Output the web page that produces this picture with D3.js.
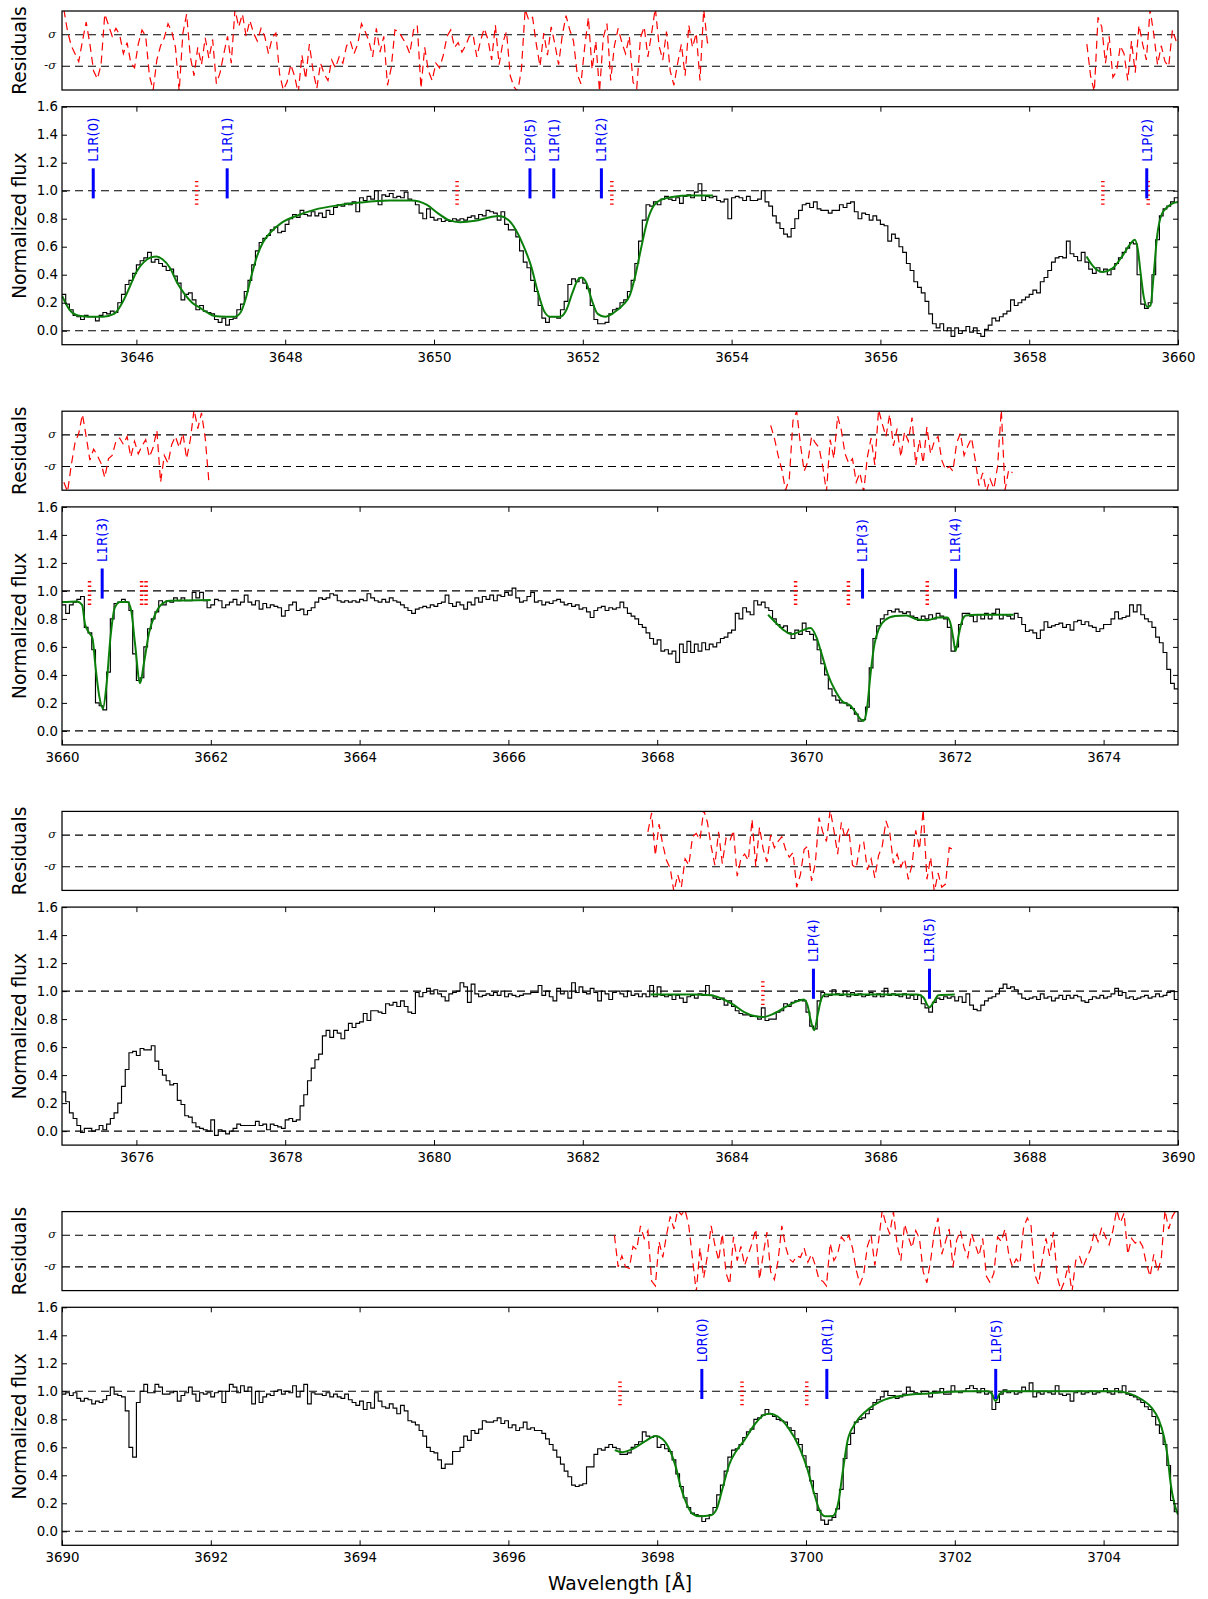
<!DOCTYPE html>
<html><head><meta charset="utf-8">
<script src="https://cdn.jsdelivr.net/npm/d3@7"></script>
<style>body{margin:0;background:#fff} svg{display:block}</style>
</head><body><svg id="c" width="1208" height="1599"></svg>
<script>
// ---------------- DATA ----------------
const binWidth = 0.05;               // Å per spectral pixel
const ranges = [[3645,3660],[3660,3675],[3675,3690],[3690,3705]];
const fluxTicks = [0,0.2,0.4,0.6,0.8,1.0,1.2,1.4,1.6];

const flux1 = [
0.26,0.19,0.15,0.11,0.10,0.08,0.11,0.10,0.10,0.07,
0.11,0.13,0.12,0.14,0.13,0.20,0.26,0.33,0.36,0.41,
0.47,0.50,0.52,0.56,0.49,0.51,0.48,0.46,0.43,0.44,
0.39,0.34,0.22,0.26,0.27,0.22,0.15,0.18,0.14,0.13,
0.12,0.08,0.06,0.09,0.04,0.08,0.09,0.15,0.19,0.28,
0.36,0.47,0.57,0.63,0.66,0.68,0.72,0.74,0.70,0.71,
0.76,0.80,0.83,0.81,0.86,0.83,0.82,0.85,0.82,0.84,
0.81,0.86,0.83,0.88,0.90,0.89,0.91,0.90,0.92,0.85,
0.95,0.93,0.96,0.94,1.00,0.90,0.97,0.96,0.98,0.95,
0.96,0.95,0.99,0.94,0.93,0.90,0.84,0.80,0.87,0.81,
0.79,0.80,0.78,0.79,0.78,0.80,0.79,0.80,0.79,0.81,
0.82,0.80,0.83,0.82,0.86,0.85,0.84,0.79,0.85,0.76,
0.72,0.72,0.67,0.57,0.49,0.45,0.36,0.28,0.18,0.09,
0.06,0.10,0.10,0.09,0.15,0.21,0.33,0.37,0.35,0.38,
0.34,0.30,0.18,0.08,0.05,0.05,0.06,0.12,0.15,0.16,
0.20,0.22,0.28,0.36,0.48,0.64,0.79,0.90,0.89,0.92,
0.90,0.94,0.96,0.94,0.93,0.95,0.91,0.96,0.97,0.95,
0.99,1.05,0.93,0.96,0.95,0.96,0.93,0.92,0.94,0.80,
0.95,0.96,0.95,0.93,0.96,0.93,0.93,0.94,1.00,0.92,
0.89,0.82,0.77,0.73,0.69,0.67,0.73,0.80,0.86,0.90,
0.91,0.88,0.92,0.87,0.86,0.86,0.84,0.86,0.86,0.90,
0.88,0.91,0.92,0.85,0.80,0.84,0.83,0.79,0.82,0.79,
0.76,0.75,0.64,0.69,0.66,0.60,0.56,0.48,0.43,0.35,
0.31,0.27,0.21,0.12,0.05,0.02,0.05,0.00,0.02,-0.04,
0.02,-0.02,0.00,0.03,-0.01,0.02,-0.02,-0.04,0.01,0.04,
0.09,0.07,0.10,0.12,0.14,0.22,0.18,0.20,0.22,0.24,
0.26,0.29,0.27,0.35,0.38,0.43,0.49,0.52,0.53,0.52,
0.64,0.55,0.53,0.50,0.56,0.49,0.44,0.41,0.45,0.42,
0.44,0.40,0.44,0.48,0.52,0.56,0.59,0.63,0.62,0.40,
0.19,0.16,0.20,0.40,0.65,0.82,0.87,0.89,0.92,0.95];

const flux2 = [
0.90,0.84,0.90,0.92,0.94,0.96,0.74,0.70,0.58,0.20,
0.18,0.15,0.42,0.80,0.91,0.92,0.94,0.92,0.86,0.55,
0.36,0.38,0.60,0.73,0.80,0.85,0.93,0.90,0.93,0.92,
0.95,0.93,0.95,0.93,0.93,0.99,0.95,0.99,0.93,0.88,
0.90,0.94,0.93,0.88,0.90,0.92,0.94,0.90,0.92,0.97,
0.92,0.90,0.93,0.87,0.91,0.88,0.90,0.89,0.88,0.82,
0.86,0.90,0.92,0.86,0.87,0.83,0.86,0.88,0.92,0.95,
0.94,0.95,0.98,0.97,0.93,0.92,0.93,0.92,0.93,0.92,
0.94,0.93,0.98,0.95,0.93,0.92,0.94,0.92,0.95,0.93,
0.92,0.90,0.88,0.86,0.84,0.87,0.88,0.89,0.88,0.90,
0.89,0.91,0.92,0.97,0.91,0.89,0.92,0.90,0.87,0.92,
0.90,0.95,0.92,0.96,0.94,0.97,0.93,0.97,0.96,0.99,
0.97,1.02,0.95,0.92,0.93,0.96,0.99,0.92,0.93,0.90,
0.92,0.91,0.93,0.94,0.92,0.90,0.91,0.89,0.90,0.87,
0.88,0.85,0.81,0.86,0.88,0.89,0.86,0.88,0.87,0.88,
0.92,0.88,0.84,0.82,0.80,0.76,0.74,0.70,0.66,0.62,
0.65,0.57,0.58,0.55,0.57,0.49,0.62,0.56,0.64,0.56,
0.62,0.57,0.63,0.58,0.62,0.60,0.63,0.66,0.67,0.70,
0.72,0.84,0.80,0.88,0.85,0.83,0.93,0.90,0.92,0.88,
0.86,0.80,0.76,0.74,0.75,0.70,0.66,0.72,0.69,0.77,
0.71,0.69,0.65,0.58,0.48,0.40,0.30,0.25,0.22,0.20,
0.20,0.18,0.16,0.12,0.07,0.08,0.17,0.45,0.66,0.75,
0.80,0.83,0.86,0.85,0.87,0.85,0.84,0.85,0.82,0.81,
0.79,0.82,0.80,0.83,0.80,0.84,0.82,0.80,0.74,0.57,
0.60,0.76,0.84,0.84,0.82,0.78,0.83,0.80,0.84,0.80,
0.84,0.87,0.80,0.83,0.82,0.80,0.84,0.81,0.76,0.71,
0.72,0.70,0.66,0.72,0.78,0.74,0.75,0.76,0.77,0.74,
0.76,0.72,0.78,0.79,0.76,0.78,0.75,0.74,0.71,0.73,
0.76,0.76,0.80,0.85,0.80,0.81,0.82,0.90,0.85,0.90,
0.83,0.80,0.78,0.74,0.67,0.63,0.56,0.44,0.34,0.30];

const flux3 = [
0.28,0.21,0.13,0.09,0.04,-0.01,0.02,0.02,0.00,0.01,
0.04,0.01,0.05,0.09,0.13,0.20,0.32,0.44,0.56,0.57,
0.54,0.59,0.58,0.58,0.61,0.50,0.44,0.40,0.36,0.33,
0.34,0.22,0.19,0.11,0.10,0.06,0.03,0.02,0.01,0.00,
0.08,-0.03,0.01,0.00,-0.02,0.00,0.02,0.05,0.04,0.04,
0.04,0.04,0.07,0.04,0.05,0.01,0.05,0.04,0.03,0.02,
0.08,0.09,0.07,0.08,0.18,0.26,0.36,0.45,0.51,0.55,
0.68,0.72,0.67,0.72,0.70,0.66,0.72,0.77,0.74,0.77,
0.78,0.84,0.79,0.86,0.86,0.85,0.84,0.91,0.90,0.92,
0.89,0.93,0.89,0.85,0.84,0.99,0.96,0.99,1.02,0.98,
1.01,0.98,0.96,0.93,0.98,0.99,1.00,1.06,1.03,0.92,
1.05,0.98,0.96,0.97,0.98,0.97,0.99,0.97,1.00,0.96,
0.98,0.97,0.96,0.97,0.98,0.98,0.99,0.99,1.04,0.97,
1.00,0.96,0.93,1.02,0.98,1.00,0.95,1.06,0.99,1.03,
0.99,0.98,1.02,0.99,0.93,1.00,0.98,0.94,0.99,1.00,
0.98,0.96,1.00,0.97,0.98,0.96,0.98,0.96,1.04,0.96,
1.03,0.97,0.96,0.97,0.94,0.97,0.95,0.92,0.96,0.97,
0.95,0.98,0.97,1.04,0.97,0.95,0.94,0.95,0.90,0.93,
0.89,0.86,0.84,0.83,0.83,0.82,0.82,0.80,0.88,0.79,
0.80,0.80,0.85,0.86,0.91,0.89,0.92,0.93,0.94,0.93,
0.85,0.75,0.73,0.93,0.99,0.96,0.97,1.01,0.98,0.97,
1.00,0.96,0.99,0.97,0.98,0.96,0.97,0.99,0.96,0.98,
0.96,1.02,0.97,0.98,0.97,0.96,0.98,0.95,0.97,0.94,
0.97,0.91,0.88,0.85,0.92,0.95,0.94,0.96,0.95,0.96,
0.93,0.96,0.92,0.98,0.90,0.87,0.86,0.90,0.93,0.95,
0.96,0.98,1.02,1.05,1.02,1.03,1.01,0.98,0.95,0.94,
0.95,0.96,0.94,0.98,0.95,0.96,0.93,0.95,0.97,0.94,
0.97,0.95,0.97,0.96,0.93,0.92,0.94,0.96,0.95,0.97,
0.95,0.96,0.98,1.02,0.97,0.99,0.95,0.96,0.94,0.95,
0.96,0.97,0.95,0.96,0.98,0.96,0.97,0.99,1.00,0.94];

const flux4 = [
0.98,0.99,0.97,0.99,0.95,0.93,0.95,0.94,0.91,0.93,
0.92,0.94,0.97,1.03,0.98,0.97,0.96,0.86,0.60,0.53,
0.92,1.00,1.05,0.99,0.99,1.05,1.03,0.98,0.98,0.99,
1.00,0.93,0.97,0.99,1.03,0.98,0.93,0.99,0.98,0.99,
0.96,0.99,1.00,0.92,1.00,1.05,1.03,0.99,1.04,1.00,
1.03,0.91,1.00,0.92,0.96,0.98,0.97,1.00,1.01,0.98,
1.00,0.99,1.04,0.96,1.00,1.05,0.91,0.99,0.98,0.98,
0.97,0.99,0.96,0.98,0.96,0.95,0.98,0.94,0.92,0.90,
0.93,0.87,0.92,0.88,0.99,0.93,0.89,0.88,0.91,0.88,
0.84,0.90,0.86,0.79,0.78,0.76,0.72,0.68,0.60,0.57,
0.56,0.51,0.45,0.48,0.48,0.57,0.57,0.60,0.68,0.65,
0.72,0.70,0.73,0.79,0.78,0.78,0.79,0.81,0.77,0.79,
0.74,0.76,0.72,0.74,0.78,0.73,0.74,0.72,0.72,0.70,
0.66,0.62,0.58,0.53,0.48,0.43,0.39,0.33,0.32,0.33,
0.34,0.46,0.46,0.55,0.59,0.58,0.60,0.62,0.60,0.59,
0.55,0.55,0.56,0.60,0.62,0.64,0.71,0.68,0.67,0.68,
0.60,0.62,0.59,0.57,0.51,0.41,0.32,0.24,0.17,0.13,
0.12,0.11,0.07,0.09,0.12,0.17,0.26,0.33,0.43,0.53,
0.58,0.59,0.62,0.67,0.71,0.73,0.80,0.81,0.83,0.87,
0.84,0.82,0.80,0.79,0.78,0.74,0.72,0.66,0.62,0.54,
0.46,0.36,0.27,0.15,0.08,0.05,0.08,0.10,0.16,0.30,
0.52,0.62,0.70,0.78,0.80,0.81,0.84,0.87,0.92,0.94,
0.96,1.00,0.97,0.97,0.95,0.96,0.98,1.03,1.00,0.99,
0.98,1.00,1.00,0.96,1.00,0.99,1.02,0.98,0.98,1.04,
1.00,0.99,1.00,1.02,1.04,1.02,0.99,1.02,0.98,0.99,
0.87,0.92,0.98,1.01,0.99,1.00,0.98,0.99,1.03,1.00,
1.06,0.96,0.99,0.98,1.00,0.99,0.98,1.04,0.98,0.97,
0.98,0.93,0.99,1.00,0.98,0.99,1.00,0.98,0.99,1.00,
1.02,0.99,0.98,1.02,0.99,1.04,0.98,0.97,0.96,0.94,
0.92,0.89,0.87,0.82,0.76,0.70,0.62,0.47,0.22,0.14];

// fitted model (wavelength, flux)
const model1a = [[3645.0,0.25],[3645.1,0.15],[3645.2,0.11],[3645.35,0.10],[3645.55,0.10],[3645.7,0.12],[3645.8,0.19],[3645.9,0.30],[3646.0,0.42],[3646.1,0.49],[3646.2,0.525],[3646.27,0.53],[3646.35,0.51],[3646.45,0.45],[3646.55,0.34],[3646.65,0.26],[3646.75,0.20],[3646.85,0.165],[3646.95,0.13],[3647.05,0.105],[3647.2,0.10],[3647.32,0.10],[3647.4,0.13],[3647.47,0.23],[3647.55,0.40],[3647.62,0.53],[3647.7,0.63],[3647.8,0.70],[3647.95,0.77],[3648.2,0.83],[3648.4,0.865],[3648.7,0.895],[3649.0,0.915],[3649.4,0.93],[3649.7,0.93],[3649.9,0.90],[3650.05,0.84],[3650.2,0.79],[3650.35,0.775],[3650.55,0.785],[3650.75,0.81],[3650.87,0.82],[3651.0,0.79],[3651.1,0.72],[3651.2,0.61],[3651.3,0.47],[3651.4,0.27],[3651.48,0.14],[3651.56,0.10],[3651.7,0.10],[3651.78,0.15],[3651.86,0.27],[3651.93,0.36],[3651.98,0.38],[3652.05,0.34],[3652.12,0.22],[3652.2,0.12],[3652.3,0.10],[3652.42,0.13],[3652.55,0.19],[3652.63,0.25],[3652.7,0.38],[3652.78,0.58],[3652.86,0.77],[3652.95,0.89],[3653.05,0.935],[3653.2,0.955],[3653.45,0.965],[3653.75,0.965]];
const model1b = [[3658.77,0.53],[3658.86,0.46],[3658.99,0.42],[3659.12,0.445],[3659.26,0.54],[3659.36,0.62],[3659.42,0.65],[3659.46,0.58],[3659.5,0.40],[3659.54,0.24],[3659.59,0.17],[3659.63,0.18],[3659.67,0.38],[3659.72,0.68],[3659.78,0.83],[3659.85,0.88],[3659.93,0.91],[3660.0,0.92]];
const model2a = [[3660.0,0.92],[3660.2,0.925],[3660.27,0.90],[3660.31,0.76],[3660.36,0.705],[3660.41,0.66],[3660.45,0.46],[3660.5,0.25],[3660.55,0.16],[3660.6,0.34],[3660.65,0.66],[3660.71,0.88],[3660.78,0.92],[3660.88,0.92],[3660.93,0.86],[3660.98,0.63],[3661.05,0.34],[3661.1,0.48],[3661.17,0.70],[3661.25,0.83],[3661.33,0.90],[3661.45,0.93],[3662.0,0.935]];
const model2b = [[3669.49,0.83],[3669.6,0.77],[3669.7,0.72],[3669.81,0.69],[3669.96,0.72],[3670.06,0.735],[3670.14,0.67],[3670.21,0.55],[3670.29,0.41],[3670.39,0.29],[3670.49,0.21],[3670.6,0.18],[3670.67,0.13],[3670.73,0.085],[3670.77,0.07],[3670.82,0.16],[3670.87,0.42],[3670.92,0.62],[3670.98,0.73],[3671.06,0.79],[3671.2,0.82],[3671.35,0.825],[3671.5,0.795],[3671.63,0.79],[3671.78,0.81],[3671.9,0.81],[3671.95,0.75],[3671.98,0.66],[3672.01,0.57],[3672.05,0.68],[3672.1,0.79],[3672.15,0.825],[3672.3,0.83],[3672.79,0.83]];
const model3 = [[3682.91,0.975],[3683.5,0.975],[3683.72,0.97],[3683.87,0.945],[3684.02,0.905],[3684.17,0.85],[3684.32,0.82],[3684.42,0.815],[3684.57,0.84],[3684.72,0.885],[3684.87,0.925],[3684.97,0.94],[3685.02,0.90],[3685.06,0.80],[3685.11,0.72],[3685.16,0.84],[3685.21,0.95],[3685.26,0.975],[3685.6,0.975],[3686.5,0.975],[3686.58,0.955],[3686.63,0.90],[3686.66,0.885],[3686.72,0.925],[3686.78,0.97],[3687.0,0.975]];
const model4 = [[3697.43,0.58],[3697.53,0.565],[3697.68,0.59],[3697.83,0.64],[3697.98,0.68],[3698.07,0.66],[3698.17,0.58],[3698.25,0.46],[3698.32,0.31],[3698.4,0.19],[3698.47,0.126],[3698.57,0.107],[3698.72,0.114],[3698.8,0.16],[3698.87,0.29],[3698.97,0.48],[3699.07,0.58],[3699.17,0.65],[3699.32,0.77],[3699.45,0.835],[3699.52,0.84],[3699.62,0.82],[3699.76,0.74],[3699.91,0.60],[3700.01,0.46],[3700.11,0.27],[3700.19,0.14],[3700.26,0.107],[3700.36,0.11],[3700.44,0.22],[3700.49,0.41],[3700.56,0.65],[3700.66,0.77],[3700.81,0.86],[3701.01,0.93],[3701.31,0.97],[3701.65,0.985],[3702.15,1.0],[3702.45,1.0],[3702.5,0.98],[3702.55,0.93],[3702.6,0.98],[3702.67,1.0],[3703.4,1.0],[3704.16,1.0],[3704.34,0.985],[3704.52,0.94],[3704.65,0.88],[3704.74,0.80],[3704.81,0.68],[3704.86,0.535],[3704.9,0.345],[3704.95,0.20],[3705.0,0.12]];

// residuals in units of sigma, sampled on the spectral pixels
const resid1aStart = 3645.025;
const resid1a = [
2.6,1.2,0.3,-0.2,-0.7,0.6,1.8,0.4,-1.3,-1.8,
-0.9,2.3,1.6,0.9,1.4,1.0,-0.2,0.5,-0.8,-1.1,
0.4,1.3,0.9,-1.6,-2.5,-0.6,0.3,0.8,1.7,1.2,
0.2,-2.6,1.1,2.3,-0.4,-1.6,0.2,-0.9,0.8,-0.5,
0.7,-2.1,-1.4,-0.2,0.9,-0.8,2.6,1.5,2.3,0.9,
1.9,1.1,0.6,1.4,0.9,-0.2,0.8,1.1,-1.5,-2.5,
-2.0,-0.9,-1.6,-2.7,-0.3,-1.8,0.4,-1.3,-2.4,-0.8,
-1.5,-1.9,-0.6,-1.1,-0.4,-0.8,0.3,0.6,-0.2,0.4,
1.7,1.2,0.6,-0.4,1.4,-0.1,0.9,-2.2,-1.1,1.3,
1.2,0.8,0.4,-0.2,1.3,1.6,-2.4,0.2,-1.3,-1.9,
-0.8,-1.1,-0.3,0.9,1.3,0.2,0.5,-0.1,0.3,0.9,
1.0,-0.4,0.6,1.4,0.7,-0.6,1.6,-0.9,0.5,1.2,
-1.6,-2.3,-2.6,-1.2,2.6,1.9,2.1,0.4,-1.0,1.1,
-0.3,1.5,0.4,-0.9,1.0,2.2,1.3,0.6,-1.5,-2.1,
0.2,2.1,-1.2,0.6,-2.6,0.8,1.7,-1.9,0.3,1.4,
0.5,-0.2,0.9,-2.0,-2.4,0.8,1.5,-0.4,1.1,2.7,
0.3,-0.6,1.2,-1.3,-2.2,-0.8,0.4,-1.6,1.6,0.2,
1.1,-1.9,2.6,0.5,0.3];
const resid1bStart = 3658.775;
const resid1b = [
0.4,-1.6,-2.6,2.1,1.5,-0.8,0.9,-1.7,-1.3,0.3,
-0.2,-1.9,0.6,-1.4,1.6,0.4,-0.6,2.6,1.0,-0.9,
0.3,-0.7,-1.0,1.3,0.6];
const resid2aStart = 3660.025;
const resid2a = [
-2.0,-2.6,-0.9,0.5,1.1,2.3,0.9,-0.6,0.1,-0.3,
-0.8,-1.7,-0.5,-0.3,0.6,0.8,0.4,0.9,-0.4,0.6,
-0.2,0.3,0.7,-0.4,0.2,1.3,-2.0,-0.3,-0.8,0.4,
0.9,0.2,1.1,-0.5,0.7,2.6,1.4,2.4,0.8,-2.0];
const resid2bStart = 3669.525;
const resid2b = [
1.6,0.8,-0.3,-1.2,-2.5,-1.8,1.9,2.5,0.4,-1.3,
-0.7,0.9,0.5,0.2,-1.0,-2.6,0.7,-0.5,2.2,1.3,
-0.2,-0.8,-0.5,-2.0,-1.4,-2.6,-0.4,0.8,-0.9,2.6,
1.7,0.9,2.3,0.3,1.4,-0.4,1.2,0.6,2.1,-0.9,
0.7,-0.8,1.5,-0.2,0.6,0.9,-0.6,-1.2,-1.0,-1.3,
0.5,1.1,-0.3,0.3,0.8,-0.6,-2.2,-1.4,-2.6,-1.8,
-2.4,-1.0,2.6,-2.5,-1.2,-1.4];
const resid3Start = 3682.875;
const resid3 = [
1.2,2.4,-0.3,
1.7,0.4,-0.6,-1.1,-2.6,-1.5,-2.3,-0.5,-0.9,0.9,
1.1,0.7,2.6,1.8,0.3,-0.9,1.2,-0.8,0.8,0.6,
1.3,-1.6,-0.5,-0.2,-0.6,2.0,-1.0,1.5,0.1,-0.7,
1.0,0.2,0.6,0.9,0.1,-0.4,-0.1,-2.3,-1.5,0.1,
0.3,-1.9,-0.8,2.1,1.2,0.6,2.6,1.3,-0.2,1.8,
0.8,1.4,-0.9,-1.1,0.4,0.6,-1.2,-0.5,-1.7,-0.3,
0.3,1.9,1.2,-0.8,-0.2,-1.0,-0.5,-1.8,-0.9,1.3,
0.1,2.6,-1.8,-0.4,-2.6,-1.4,-2.3,-2.1,0.2,0.1];
const resid4Start = 3697.425;
const resid4 = [
1.0,-1.0,
-0.3,-1.0,-1.1,0.3,0.1,1.6,0.8,1.3,-1.9,-2.2,
0.6,-0.4,1.0,2.2,1.4,2.6,2.3,2.6,1.6,-0.5,
-2.6,0.2,-1.7,-0.3,1.6,0.4,-0.6,1.1,-1.4,-2.1,
0.9,-0.6,0.3,-0.9,-0.2,0.5,1.4,-1.8,-0.2,1.2,
-1.3,-1.8,-0.6,1.6,0.3,-0.5,-0.7,-0.3,-0.4,0.2,
-0.7,-0.2,-0.9,-1.8,-1.9,-2.2,0.5,-0.6,-0.2,0.9,
0.6,1.0,0.2,-1.2,-2.1,-1.5,0.3,1.0,-0.9,0.6,
2.6,1.7,1.1,2.5,0.4,-0.6,1.7,0.9,0.2,1.3,
0.8,-1.3,-2.0,-0.6,1.2,2.1,-0.2,0.6,1.4,-1.0,
0.7,1.3,0.2,-0.4,1.1,0.4,-0.3,0.8,-1.6,-2.0,
-1.4,0.9,0.6,1.4,-0.2,-1.0,-0.5,-0.8,1.5,2.1,
1.6,-1.5,-2.1,-0.6,0.8,-0.3,1.2,-1.6,-2.5,-1.9,
-0.9,-2.6,-0.6,-0.3,-1.0,-0.4,0.1,1.2,0.6,1.5,
0.9,0.4,1.3,2.6,1.8,2.4,-0.2,0.8,0.5,0.7,
0.3,-0.8,-1.6,-0.2,-1.3,-0.5,2.6,1.4,2.2,2.6];

// line identifications
const blue1 = [[3645.42,"L1R(0)"],[3647.22,"L1R(1)"],[3651.29,"L2P(5)"],[3651.61,"L1P(1)"],[3652.25,"L1R(2)"],[3659.58,"L1P(2)"]];
const red1 = [3646.81,3650.31,3652.39,3658.99,3659.60];
const blue2 = [[3660.54,"L1R(3)"],[3670.76,"L1P(3)"],[3672.01,"L1R(4)"]];
const red2 = [3660.37,3661.07,3661.13,3669.86,3670.57,3671.63];
const blue3 = [[3685.10,"L1P(4)"],[3686.66,"L1R(5)"]];
const red3 = [3684.42];
const blue4 = [[3698.60,"L0R(0)"],[3700.28,"L0R(1)"],[3702.55,"L1P(5)"]];
const red4 = [3697.50,3699.14,3700.01];

const panels = [
  {flux: flux1, models: [model1a, model1b], resid: [[resid1aStart, resid1a],[resid1bStart, resid1b]], blue: blue1, red: red1},
  {flux: flux2, models: [model2a, model2b], resid: [[resid2aStart, resid2a],[resid2bStart, resid2b]], blue: blue2, red: red2},
  {flux: flux3, models: [model3], resid: [[resid3Start, resid3]], blue: blue3, red: red3},
  {flux: flux4, models: [model4], resid: [[resid4Start, resid4]], blue: blue4, red: red4}
];

// ---------------- LAYOUT ----------------
const L = 62, R = 1178;
const PANEL_STEP = 400.2;
const RES_TOP = 11, RES_H = 79;
const FLUX_TOP = 106.7, FLUX_H = 238;
const FONT = '"DejaVu Sans", sans-serif';
const TICK_FS = 13.33, LABEL_FS = 18.67;
const DASH = "8,5";

const svg = d3.select("#c");
const defs = svg.append("defs");

panels.forEach((p, k) => {
  const rTop = RES_TOP + k * PANEL_STEP;
  const fTop = FLUX_TOP + k * PANEL_STEP;
  const dom = ranges[k];
  const x = d3.scaleLinear().domain(dom).range([L, R]);
  const yR = d3.scaleLinear().domain([-2.5, 2.5]).range([rTop + RES_H, rTop]);
  const yF = d3.scaleLinear().domain([-0.1, 1.6]).range([fTop + FLUX_H, fTop]);

  defs.append("clipPath").attr("id", "cr" + k).append("rect")
    .attr("x", L).attr("y", rTop).attr("width", R - L).attr("height", RES_H);
  defs.append("clipPath").attr("id", "cf" + k).append("rect")
    .attr("x", L).attr("y", fTop).attr("width", R - L).attr("height", FLUX_H);

  // ---- residual panel ----
  const gr = svg.append("g");
  [1, -1].forEach(v => {
    gr.append("line").attr("x1", L).attr("x2", R).attr("y1", yR(v)).attr("y2", yR(v))
      .attr("stroke", "#000").attr("stroke-width", 1.1).attr("stroke-dasharray", DASH);
  });
  const rLine = d3.line().x(d => x(d[0])).y(d => yR(d[1]));
  p.resid.forEach(([start, vals]) => {
    const pts = vals.map((v, i) => [start + binWidth * i, v]);
    gr.append("path").attr("d", rLine(pts)).attr("fill", "none")
      .attr("stroke", "#ff0000").attr("stroke-width", 1.2).attr("stroke-dasharray", DASH)
      .attr("clip-path", "url(#cr" + k + ")");
  });
  gr.append("rect").attr("x", L).attr("y", rTop).attr("width", R - L).attr("height", RES_H)
    .attr("fill", "none").attr("stroke", "#000").attr("stroke-width", 1.25);
  [[1, "σ"], [-1, "-σ"]].forEach(([v, t]) => {
    gr.append("text").attr("x", 56).attr("y", yR(v)).attr("dy", "0.27em")
      .attr("text-anchor", "end").attr("font-family", '"DejaVu Serif", serif')
      .attr("font-style", "italic").attr("font-size", 11.5).attr("fill", "#111").text(t);
  });
  gr.append("text").attr("transform", `translate(19,${rTop + RES_H / 2}) rotate(-90)`)
    .attr("dy", "0.35em").attr("text-anchor", "middle").attr("font-family", FONT)
    .attr("font-size", LABEL_FS).text("Residuals");

  // ---- flux panel ----
  const gf = svg.append("g");
  [0, 1].forEach(v => {
    gf.append("line").attr("x1", L).attr("x2", R).attr("y1", yF(v)).attr("y2", yF(v))
      .attr("stroke", "#000").attr("stroke-width", 1.1).attr("stroke-dasharray", DASH);
  });
  const pts = p.flux.map((v, i) => [dom[0] + binWidth * i, v]);
  pts.push([dom[1], p.flux[p.flux.length - 1]]);
  const sLine = d3.line().curve(d3.curveStepAfter).x(d => x(d[0])).y(d => yF(d[1]));
  gf.append("path").attr("d", sLine(pts)).attr("fill", "none").attr("stroke", "#000")
    .attr("stroke-width", 1.15).attr("clip-path", "url(#cf" + k + ")");
  const mLine = d3.line().curve(d3.curveMonotoneX).x(d => x(d[0])).y(d => yF(d[1]));
  p.models.forEach(m => {
    gf.append("path").attr("d", mLine(m)).attr("fill", "none").attr("stroke", "#0a800a")
      .attr("stroke-width", 2).attr("clip-path", "url(#cf" + k + ")");
  });
  p.red.forEach(l => {
    gf.append("line").attr("x1", x(l)).attr("x2", x(l)).attr("y1", yF(0.9)).attr("y2", yF(1.08))
      .attr("stroke", "#ff0000").attr("stroke-width", 3.5).attr("stroke-dasharray", "1.3,3.2");
  });
  p.blue.forEach(([l, lab]) => {
    gf.append("line").attr("x1", x(l)).attr("x2", x(l)).attr("y1", yF(0.945)).attr("y2", yF(1.16))
      .attr("stroke", "#0000ff").attr("stroke-width", 3);
    gf.append("text").attr("transform", `translate(${x(l)},${yF(1.2) - 1}) rotate(-90)`)
      .attr("dy", "0.36em").attr("text-anchor", "start").attr("font-family", FONT)
      .attr("font-size", TICK_FS).attr("fill", "#0000ff").text(lab);
  });

  // axes (inward ticks on all sides)
  const xt = d3.range(Math.ceil(dom[0] / 2) * 2, dom[1] + 0.001, 2);
  const styleAxis = g => {
    g.select(".domain").remove();
    g.selectAll(".tick line").attr("stroke", "#000").attr("stroke-width", 1);
    g.selectAll("text").attr("font-family", FONT).attr("font-size", TICK_FS).attr("fill", "#000");
  };
  gf.append("g").attr("transform", `translate(0,${fTop + FLUX_H})`)
    .call(d3.axisBottom(x).tickValues(xt).tickSize(-5).tickPadding(7.5).tickFormat(d3.format("d")))
    .call(styleAxis);
  gf.append("g").attr("transform", `translate(0,${fTop})`)
    .call(d3.axisTop(x).tickValues(xt).tickSize(-5).tickFormat(""))
    .call(styleAxis);
  gf.append("g").attr("transform", `translate(${L},0)`)
    .call(d3.axisLeft(yF).tickValues(fluxTicks).tickSize(-5).tickPadding(4).tickFormat(d3.format(".1f")))
    .call(styleAxis);
  gf.append("g").attr("transform", `translate(${R},0)`)
    .call(d3.axisRight(yF).tickValues(fluxTicks).tickSize(-5).tickFormat(""))
    .call(styleAxis);
  gf.append("rect").attr("x", L).attr("y", fTop).attr("width", R - L).attr("height", FLUX_H)
    .attr("fill", "none").attr("stroke", "#000").attr("stroke-width", 1.25);
  gf.append("text").attr("transform", `translate(19,${fTop + FLUX_H / 2}) rotate(-90)`)
    .attr("dy", "0.35em").attr("text-anchor", "middle").attr("font-family", FONT)
    .attr("font-size", LABEL_FS).text("Normalized flux");
});

svg.append("text").attr("x", (L + R) / 2).attr("y", 1590).attr("text-anchor", "middle")
  .attr("font-family", FONT).attr("font-size", LABEL_FS).text("Wavelength [Å]");
</script></body></html>
